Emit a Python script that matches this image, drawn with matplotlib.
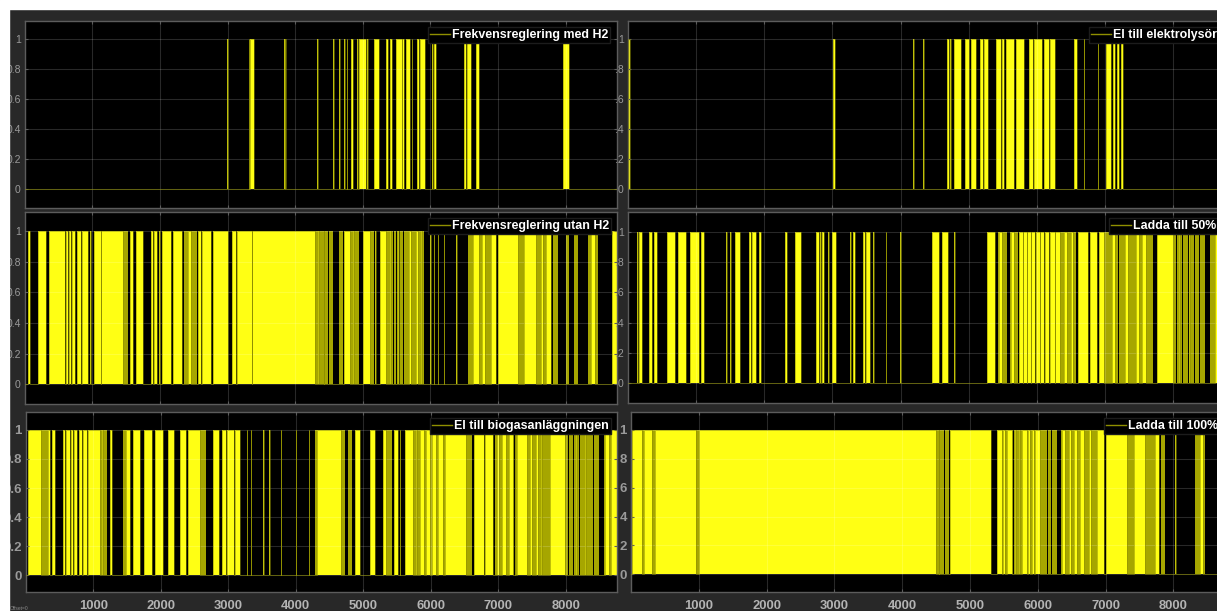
import matplotlib
matplotlib.use('Agg')
import matplotlib.pyplot as plt
from matplotlib.lines import Line2D
from matplotlib.patches import Rectangle

# on-periods (start hour, stop hour)
med_h2 = [(2995,3005),(3310,3322),(3335,3385),(3836,3842),(3850,3870),(4325,4330),(4565,4570),(4653,4658),
	(4725,4737),(4760,4772),(4825,4860),(4912,4925),(4940,5047),(5060,5072),(5164,5240),(5340,5368),
	(5397,5435),(5497,5579),(5585,5615),(5640,5700),(5725,5732),(5805,5835),(5850,5920),(6029,6040),(6055,6082),
	(6497,6530),(6545,6596),(6678,6713),(7965,8047)]
utan_h2 = [(50,78),(200,320),(350,600),(615,640),(655,685),(700,745),(770,830),(850,930),(965,975),
	(1025,1120),(1128,1445),(1560,1595),(1650,1755),(1870,1900),(1915,1960),
	(1985,2005),(2030,2160),(2190,2320),(2420,2460),(2560,2605),(2620,2760),
	(2790,3010),(3070,3120),(3140,3355),(3365,4287),(4340,4352),(4420,4432),(4725,4804),(4860,4872),(5001,5099),
	(5178,5198),(5247,5345),(5400,5410),(5520,5530),(5690,5715),(5790,5815),(5855,5875),(5995,6001),(6050,6056),
	(6108,6114),(6197,6203),(6380,6386),(6625,6724),(6770,6800),(6896,6970),(6995,7290),(7388,7560),(7640,7660),
	(7708,7782),(8380,8440),(8693,8760)]
biogas = [(30,219),(330,365),(392,432),(546,580),(600,654),(670,700),(720,760),(790,830),(850,900),(926,1099),
	(1130,1150),(1248,1282),(1485,1544),(1584,1692),(1752,1875),(1915,2038),(2113,2202),(2285,2370),(2409,2582),
	(2770,2864),(2904,2960),(2985,3077),(3101,3175),(3274,3280),(3334,3340),(3521,3535),(3610,3616),(3778,3784),
	(4001,4007),(4190,4196),(4320,4668),(4880,4954),(5102,5167),(5286,5335),(5449,5508),(5537,5545),(5622,5736),
	(5775,5790),(5844,5900),(5930,5990),(6020,6080),(6110,6180),(6215,6526),(6635,6783),(6808,6922),(6975,7010),
	(7060,7120),(7160,7215),(7242,7250),(7280,7430),(7470,7500),(7560,7590),(7630,7650),(7772,7995),(8150,8165),
	(8290,8305),(8580,8640),(8670,8760)]
elektrolys = [(5,30),(3005,3040),(4185,4195),(4333,4340),(4680,4710),(4720,4745),(4783,4890),(4950,5005),(5035,5100),
	(5170,5205),(5225,5290),(5397,5480),(5495,5525),(5540,5660),(5700,5810),(5880,5950),(5965,6080),(6105,6180),
	(6195,6265),(6550,6595),(6690,6697),(6895,6902),(7010,7090),(7120,7150),(7175,7205),(7230,7270)]
ladda_50 = [(140,155),(170,210),(310,360),(385,425),(575,690),(735,855),(910,1045),(1080,1120),(1440,1450),(1505,1512),
	(1575,1650),(1775,1805),(1815,1880),(1920,1950),(2305,2335),(2450,2535),(2765,2800),(2815,2840),(2855,2880),
	(2930,2955),(3000,3050),(3260,3280),(3305,3335),(3445,3480),(3495,3545),(3600,3610),(3780,3790),(3998,4005),
	(4455,4565),(4615,4700),(4785,4793),(5272,5384),(5440,5490),(5620,5660),(5741,5790),(5796,5850),(5856,5910),
	(5916,5980),(5986,6040),(6046,6110),(6116,6180),(6186,6260),(6266,6337),(6400,6440),(6500,6530),(6606,6752),
	(6777,6875),(6914,6982),(7100,7140),(7290,7340),(7460,7500),(7540,7600),(7764,7999),(8090,8105),(8230,8245),
	(8620,8640)]
ladda_100 = [(15,170),(195,310),(360,955),(1010,4500),(4540,4548),(4700,5315),(5399,5473),(5490,5522),(5546,5620),
	(5670,5685),(5720,5735),(5767,5841),(5860,5890),(5915,5950),(5964,6037),(6356,6405),(6455,6495),(6530,6575),
	(6625,6675),(6750,6790),(6872,6970),(7004,7314),(7412,7584),(7731,7780),(8030,8036),(8390,8440)]

# stretches where the trace flips faster than a pixel and shows as dim olive
utan_h2_dim = [(1445,1530),(2350,2550),(4287,4484),(4499,4558),(4646,4705),(4804,4937),(5099,5158),(5345,5445),(5460,5490),
	(5505,5540),(5555,5600),(5615,5665),(5665,5911),(6551,6625),(6625,6970),(7290,7388),(7560,7708),(7817,7881),
	(8004,8053),(8127,8176),(8324,8486)]
biogas_dim = [(219,280),(290,333),(1099,1198),(1440,1485),(2582,2671),(4288,4320),(4668,4732),(4777,4827),(5335,5424),
	(5736,5844),(5844,6215),(6526,6610),(6947,7229),(7255,7630),(7640,7772),(7995,8040),(8055,8110),(8125,8200),
	(8215,8290),(8305,8400),(8415,8490),(8564,8670)]
elektrolys_dim = []
ladda_50_dim = [(5423,5555),(5604,5726),(6337,6581),(6982,7168),(7168,7190),(7205,7266),(7266,7390),(7400,7437),(7437,7705),
	(7999,8040),(8060,8130),(8150,8210),(8225,8300),(8320,8380),(8395,8463),(8536,8620)]
ladda_100_dim = [(170,195),(310,360),(955,1010),(4500,4615),(4625,4695),(5473,5530),(5538,5640),(5650,6101),(6101,6135),
	(6145,6200),(6210,6283),(6346,6872),(7314,7412),(7584,7731),(7820,7878),(8320,8467)]

names = ['Frekvensreglering med H2', 'Frekvensreglering utan H2', 'El till biogasanläggningen',
	'El till elektrolysör', 'Ladda till 50%', 'Ladda till 100%']
traces = [med_h2, utan_h2, biogas, elektrolys, ladda_50, ladda_100]
dims = [[], utan_h2_dim, biogas_dim, elektrolys_dim, ladda_50_dim, ladda_100_dim]
xticks = [1000, 2000, 3000, 4000, 5000, 6000, 7000, 8000]
yticks = [0, 0.2, 0.4, 0.6, 0.8, 1]
ylabels_left = ['0', '0.2', '0.4', '0.6', '0.8', '1']
ylabels_right = ['0', '.2', '.4', '.6', '.8', '1']
ylabels_br = ['0', '2', '4', '6', '8', '1']

W, H = 1217, 611
plt.rcParams['font.family'] = ['Liberation Sans', 'DejaVu Sans']
fig = plt.figure(figsize=(W/100, H/100), dpi=100, facecolor='#282828')

# pixel boxes: left, right, top, bottom of each axes
boxes = [(25, 617, 21, 208), (25, 617, 212, 404), (26, 617, 412, 592),
	(628, 1225, 21, 208), (628, 1225, 212, 403), (631, 1225, 412, 592)]
ylims = [(-0.129, 1.122), (-0.129, 1.126), (-0.117, 1.124),
	(-0.127, 1.12), (-0.13, 1.13), (-0.122, 1.124)]
# legend: left and top pixel of the box
legpos = [(428, 27), (428, 218), (430, 418), (1089, 27), (1109, 218), (1104, 418)]
labels = [ylabels_left, ylabels_left, ylabels_left, ylabels_right, ylabels_right, ylabels_br]


def steps(periods):
	x = [0]
	y = [0]
	for a, e in periods:
		x += [a, a, e, e]
		y += [0, 1, 1, 0]
	x.append(8760)
	y.append(0)
	return x, y


for i in range(6):
	l, r, t, b = boxes[i]
	ax = fig.add_axes([l/W, 1-b/H, (r-l)/W, (b-t)/H], facecolor='black')
	x, y = steps(dims[i])
	ax.fill_between(x, y, 0, color='#a6a600', linewidth=0, zorder=2)
	x, y = steps(traces[i])
	ax.fill_between(x, y, 0, color='#ffff14', linewidth=0, zorder=2.5)
	ax.plot(x, y, color='#8f8f00', linewidth=0.4, zorder=3, label=names[i])
	ax.set_xlim(2, 8760)
	ax.set_ylim(*ylims[i])
	ax.set_xticks(xticks)
	ax.set_yticks(yticks)
	ax.set_yticklabels(labels[i])
	ax.grid(True, color='white', alpha=0.16, linewidth=0.8, zorder=4)
	ax.set_axisbelow(False)
	for s in ax.spines.values():
		s.set_color('#5c5c5c')
		s.set_linewidth(1.0)
	bottom = i in (2, 5)
	ysize = 9.5 if bottom else 7.5
	ax.tick_params(axis='y', direction='in', length=2, color='#5c5c5c', labelcolor='#9a9a9a', labelsize=ysize,
		right=True, pad=3)
	ax.tick_params(axis='x', direction='in', length=2, color='#5c5c5c', labelcolor='#b4b4b4', labelsize=9.4,
		top=True, labelbottom=bottom, pad=5.5)
	if bottom:
		for lab in ax.get_yticklabels() + ax.get_xticklabels():
			lab.set_fontweight('bold')
	h = Line2D([0], [0], color='#8f8f00', linewidth=1.0)
	lx, ly = legpos[i]
	leg = ax.legend([h], [names[i]], loc='upper left', bbox_to_anchor=(lx/W, 1-ly/H), bbox_transform=fig.transFigure,
		borderaxespad=0, fancybox=False, framealpha=1, facecolor='black', edgecolor='#1c1c1c',
		prop={'size': 8.9, 'weight': 'bold'}, handlelength=1.6, handletextpad=0.15, borderpad=0.18)
	leg.set_zorder(6)
	for txt in leg.get_texts():
		txt.set_color('white')

# white page margin left of and above the scope window
fig.add_artist(Rectangle((0, 0), 9/W, 1, transform=fig.transFigure, color='white', zorder=20))
fig.add_artist(Rectangle((0, 1-9/H), 1, 9/H, transform=fig.transFigure, color='white', zorder=20))
fig.text(10/W, 1-608/H, 'Offset=0', color='#8a8a8a', fontsize=3.5, va='center', zorder=21)

fig.savefig('out.png', dpi=100, facecolor=fig.get_facecolor())
